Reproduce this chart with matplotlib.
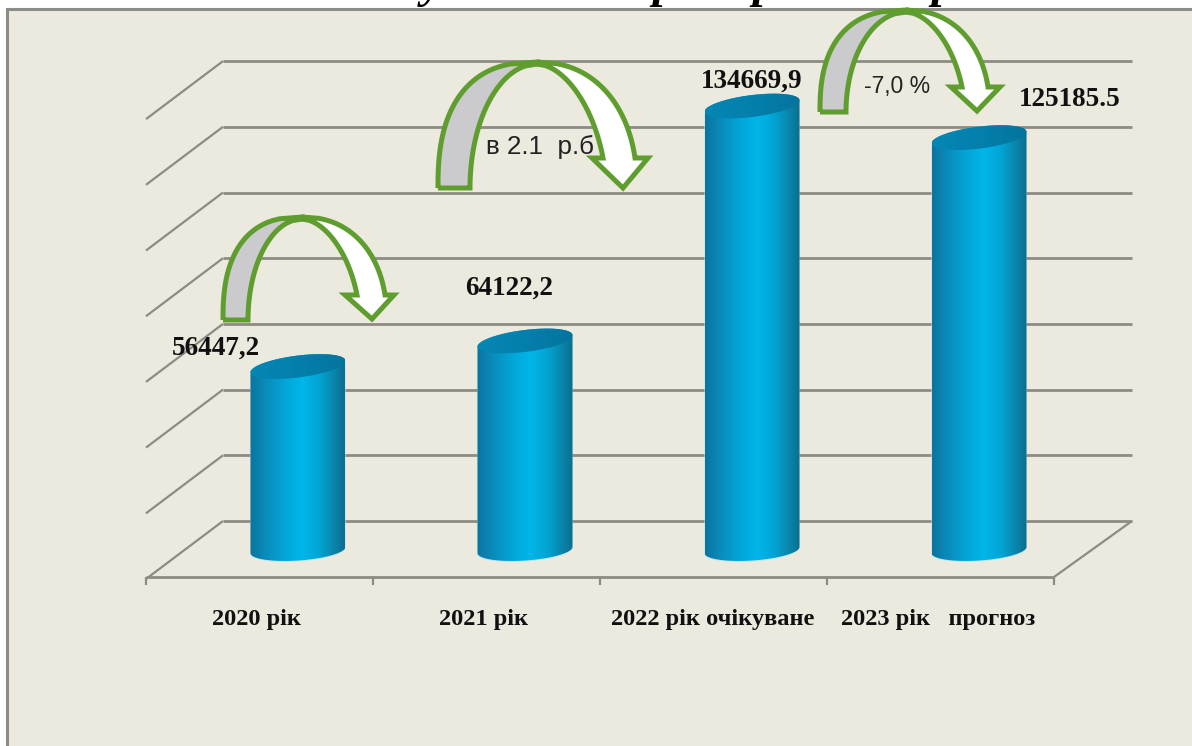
import numpy as np
import matplotlib
matplotlib.use("Agg")
import matplotlib.pyplot as plt
from matplotlib.path import Path
from matplotlib.patches import PathPatch, Rectangle
from matplotlib.colors import LinearSegmentedColormap

categories = ["2020 рік", "2021 рік", "2022 рік очікуване", "2023 рік   прогноз"]
values = [56447.2, 64122.2, 134669.9, 125185.5]
value_labels = ["56447,2", "64122,2", "134669,9", "125185.5"]
grid_rows = [0, 1, 2, 3, 4, 5, 6, 7]

W, H = 1192, 746
BG = "#ECE9DF"
GRID = "#8E8B84"
GREEN = "#5F9E2E"

# where data lands on the picture
X0, DX = 298.0, 227.0
Y0, PX_PER_UNIT = 554.5, 0.00333


def d2x(px):
    return (px - X0) / DX


def d2y(py):
    return (Y0 - py) / PX_PER_UNIT


fig = plt.figure(figsize=(W / 100, H / 100), dpi=100, facecolor="white")
ax = fig.add_axes([0, 0, 1, 1])
ax.set_xlim(d2x(0), d2x(W))
ax.set_ylim(d2y(H), d2y(0))
ax.axis("off")

# panel
ax.add_patch(Rectangle((d2x(7.5), d2y(H + 5)), d2x(W + 5) - d2x(7.5), d2y(8.5) - d2y(H + 5),
                       fc=BG, ec="#8C8C88", lw=2.2, zorder=1))
# only the tails of the title letters stay visible above the panel
for px, ch in zip([432, 664, 764, 943], ["у", "р", "р", "р"]):
    ax.text(d2x(px), d2y(-3), ch, family="Liberation Serif", style="italic", weight="bold",
            fontsize=34, ha="center", va="baseline", zorder=0.5)


def px_line(xs, ys, **kw):
    ax.plot([d2x(x) for x in xs], [d2y(y) for y in ys], color=GRID, solid_capstyle="butt", **kw)


# walls and floor
for k in grid_rows:
    back = 521 - k * 65.7
    px_line([223, 1132], [back, back], lw=2, zorder=2)
    px_line([146, 223], [back + 58, back], lw=1.6, zorder=2)
px_line([146, 1054], [577, 577], lw=2, zorder=2)
px_line([1054, 1132], [577, 521], lw=1.6, zorder=2)
for i in range(5):
    x = 146 + i * 227
    px_line([x, x], [577, 585], lw=1.6, zorder=2)

cyl_cmap = LinearSegmentedColormap.from_list(
    "cyl", [(0, "#0B74A0"), (0.15, "#0A8AB8"), (0.35, "#03A4D6"), (0.55, "#00B6E8"),
            (0.72, "#02A6D6"), (0.88, "#0A86AC"), (1, "#0B6F90")])
top_cmap = LinearSegmentedColormap.from_list("top", ["#0587B4", "#047FAC", "#05749E"])


def ell(cx, cy, rx, ry, t0, t1, tilt, n=60):
    t = np.linspace(t0, t1, n)
    xs = cx + rx * np.cos(t)
    ys = cy + ry * np.sin(t) + tilt * (xs - cx)
    return np.column_stack([d2x(xs), d2y(ys)])


def clip_gradient(verts, cmap, x0, x1, y0, y1, z):
    patch = PathPatch(Path(verts, closed=False), fc="none", ec="none", zorder=z)
    ax.add_patch(patch)
    im = ax.imshow(np.linspace(0, 1, 256)[None, :], extent=(x0, x1, y0, y1), aspect="auto",
                   cmap=cmap, zorder=z, interpolation="bilinear")
    im.set_clip_path(patch)


xs = np.arange(len(values))
bars = ax.bar(xs, values, width=95 / DX, color="none", zorder=3)
for rect in bars:
    left, w, h = rect.get_x(), rect.get_width(), rect.get_height()
    cx = X0 + (left + w / 2) * DX
    top = Y0 - h * PX_PER_UNIT
    rx = w * DX / 2
    base = ell(cx, 550, rx, 10.5, 0, np.pi, -0.065)
    lid = ell(cx, top, rx, 11, np.pi, 2 * np.pi, -0.12)
    body = np.vstack([base, lid, base[:1]])
    glow = PathPatch(Path(body + np.array([0, -1.0 / PX_PER_UNIT])), fc="#BDE6EE", ec="none", zorder=2.9)
    ax.add_patch(glow)
    clip_gradient(body, cyl_cmap, left, left + w, d2y(570), d2y(top - 20), 3)
    clip_gradient(ell(cx, top, rx, 11, 0, 2 * np.pi, -0.12), top_cmap, left, left + w, d2y(570), d2y(top - 20), 3.1)
ax.set_xlim(d2x(0), d2x(W))
ax.set_ylim(d2y(H), d2y(0))

# value labels
label_px = [(216, 348), (509, 288), (752, 81), (1070, 99)]
for (px, py), lab in zip(label_px, value_labels):
    ax.text(d2x(px), d2y(py), lab, family="Liberation Serif", weight="bold", fontsize=19.5,
            ha="center", va="center", color="#111111", zorder=6)

# category labels
cat_px = [257, 484, 713, 938]
for px, lab in zip(cat_px, categories):
    ax.text(d2x(px), d2y(619.5), lab, family="Liberation Serif", weight="bold", fontsize=17.6,
            ha="center", va="center", color="#111111", zorder=6)


def super_arc(cx, base_y, rx, ry, n, y_end):
    # quarter of a superellipse from height y_end (pixels) up to the apex
    fr = np.linspace((base_y - y_end) / ry, 1, 60)
    dx = rx * (1 - fr ** n) ** (1 / n)
    return dx, base_y - fr * ry


def curved_arrow(bl, br, base_y, ax_px, ap_y, tip, wl, wr, wy, si, so, z=5):
    # grey rising half: full outer edge, plain ellipse inside
    dx, ys = super_arc(ax_px, base_y, ax_px - bl, base_y - ap_y, 2.5, base_y)
    outer = np.column_stack([ax_px - dx, ys])
    dx, ys = super_arc(ax_px, base_y, ax_px - br, base_y - ap_y - 2, 2.0, base_y)
    inner = np.column_stack([ax_px - dx, ys])[::-1]
    grey = np.vstack([outer, inner, outer[:1]])
    # white falling half with the head, arcs keep going towards the base level
    ry_o = base_y - ap_y
    ry_i = base_y - ap_y - 2
    f_o = ((base_y - wy) / ry_o) ** 2.2
    dx, ys = super_arc(ax_px, base_y, (so - ax_px) / (1 - f_o) ** (1 / 2.2), ry_o, 2.2, wy)
    outer2 = np.column_stack([ax_px + dx, ys])[::-1]
    f_i = ((base_y - wy) / ry_i) ** 1.8
    dx, ys = super_arc(ax_px, base_y, (si - ax_px) / (1 - f_i) ** (1 / 1.8), ry_i, 1.8, wy)
    inner2 = np.column_stack([ax_px + dx, ys])
    white = np.vstack([outer2, [[wr, wy], [tip[0], tip[1]], [wl, wy]], inner2, outer2[:1]])
    for pts, col in ((grey, "#CBCBCD"), (white, "white")):
        verts = np.column_stack([d2x(pts[:, 0]), d2y(pts[:, 1])])
        ax.add_patch(PathPatch(Path(verts), fc=col, ec=GREEN, lw=3.6, joinstyle="miter", zorder=z))


curved_arrow(223, 248, 320, 302, 217, (372, 319), 345, 394, 295, 357, 385)
curved_arrow(438, 470, 188, 537, 62, (623, 188), 592, 648, 158, 603, 635)
curved_arrow(820, 846, 112, 906, 10, (977, 111), 951, 1000, 87, 962, 988)

ax.text(d2x(540), d2y(147), "в 2.1  р.б", family="Liberation Sans", fontsize=18.7,
        ha="center", va="center", color="#222222", zorder=6)
ax.text(d2x(897), d2y(87), "-7,0 %", family="Liberation Sans", fontsize=16.5,
        ha="center", va="center", color="#222222", zorder=6)

fig.savefig("out.png", dpi=100, facecolor="white")
